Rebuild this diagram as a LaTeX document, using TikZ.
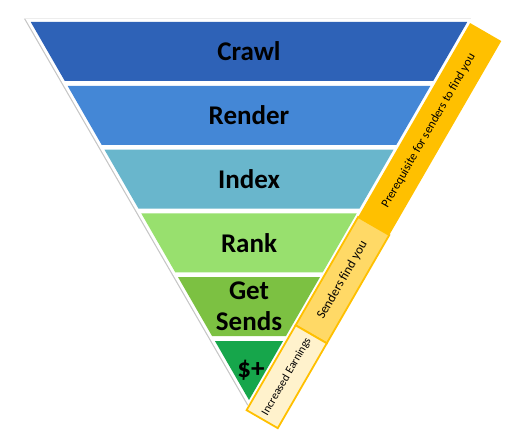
\documentclass[tikz,border=0pt]{standalone}
\usepackage{fontspec}
\setmainfont{Carlito}
\definecolor{crawlblue}{HTML}{2E62B7}
\definecolor{renderblue}{HTML}{4487D6}
\definecolor{indexteal}{HTML}{69B6CC}
\definecolor{rankgreen}{HTML}{98E06E}
\definecolor{sendsgreen}{HTML}{7CC142}
\definecolor{moneygreen}{HTML}{16A64B}
\definecolor{goldbar}{HTML}{FFC000}
\definecolor{lightgold}{HTML}{FFD966}
\definecolor{palegold}{HTML}{FFF2CC}
\tikzset{
  band/.style={font=\fontsize{27}{31}\selectfont\bfseries, align=center, text=black},
  barlabel/.style={font=\fontsize{13}{15}\selectfont, text=black, transform shape},
  goldbox/.style={draw=goldbar, line width=1.8pt},
}
\begin{document}
\begin{tikzpicture}[x=1pt,y=1pt]
	   \useasboundingbox (0,0) rectangle (511,440);
	   % frame and shadow
	   \fill[gray!45,shift={(-1.6,0.4)}] (25.56,421)--(472.44,421)--(249,34)--cycle;
	   \fill[white] (25.56,421)--(472.44,421)--(249,34)--cycle;
	   % the six bands
	   \fill[crawlblue] (30.76,418)--(467.24,418)--(433.18,359)--(64.82,359)--cycle;
	   \fill[renderblue] (67.60,354.2)--(430.40,354.2)--(396.34,295.2)--(101.66,295.2)--cycle;
	   \fill[indexteal] (104.43,290.4)--(393.57,290.4)--(359.51,231.4)--(138.49,231.4)--cycle;
	   \fill[rankgreen] (141.27,226.6)--(356.73,226.6)--(322.67,167.6)--(175.33,167.6)--cycle;
	   \fill[sendsgreen] (178.10,162.8)--(319.90,162.8)--(285.84,103.8)--(212.16,103.8)--cycle;
	   \fill[moneygreen] (214.94,99)--(283.06,99)--(249,40)--cycle;
	   \node[band] (crawl) at (249,388.5) {Crawl};
	   \node[band] (render) at (249,324.7) {Render};
	   \node[band] (index) at (249,260.9) {Index};
	   \node[band] (rank) at (249,197.1) {Rank};
	   \node[band] (sends) at (249,133.3) {Get\\Sends};
	   \node[band] (money) at (251,69.5) {\$+};
	   % bars along the right side
	   \begin{scope}[shift={(249,40)},rotate=60]
	   \fill[goldbar] (213,-39) rectangle (437,-3);
	   \draw[goldbox,fill=lightgold] (88,-39) rectangle (213,-3);
	   \draw[goldbox,fill=palegold] (-10,-39) rectangle (88,-3);
	   \node[barlabel,font=\fontsize{12.3}{14}\selectfont] (prereq) at (323,-21) {Prerequisite for senders to find you};
	   \node[barlabel] (findyou) at (150.5,-21) {Senders find you};
	   \node[barlabel,font=\fontsize{11.5}{13}\selectfont] (earnings) at (39,-21) {Increased Earnings};
	   \end{scope}
\end{tikzpicture}
\end{document}
